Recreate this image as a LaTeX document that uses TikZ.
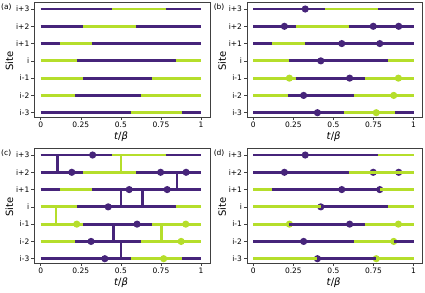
\documentclass[tikz,border=0pt]{standalone}
\usepackage{fontspec}
\setmainfont{DejaVu Sans}
\usepackage{xcolor}
\usepackage{tikz}

\definecolor{vpurple}{HTML}{46247A}
\definecolor{vgreen}{HTML}{B5DE2B}

% axes of one panel: frame, ticks, tick labels, axis labels, tag
\newcommand{\panelaxes}[1]{%
  \draw[frame] (-0.0387,-0.27) rectangle (1.0563,6.4);
  \foreach \t [count=\k] in {0,0.25,0.5,0.75,1} {
    \draw[tick] (\t,-0.27) -- ++(0,-3pt);
    \node[ticklabel, anchor=north] (xt#1\k) at ([yshift=-4.4pt]\t,-0.27) {\t};
  }
  \foreach \r/\s in {0/i-3,1/i-2,2/i-1,3/i,4/i+1,5/i+2,6/i+3} {
    \draw[tick] (-0.0387,\r) -- ++(-3.5pt,0);
    \node[ticklabel, anchor=east] (yt#1\r) at ([xshift=-5pt]-0.0387,\r) {\s};
  }
  \node[axislabel, rotate=90] (site#1) at (-31.2pt,51.7pt) {Site};
  \node[axislabel] (time#1) at (80.3pt,-23.6pt) {\textit{t}/\textit{β}};
  \node[tag, anchor=west] (tag#1) at (-39.7pt,105.7pt) {(#1)};
}

% world lines of the first configuration
\newcommand{\worldlines}{%
  \foreach \r/\a/\b/\c in {
      6/0/0.447/vpurple, 6/0.447/0.78/vgreen, 6/0.78/1/vpurple,
      5/0/0.266/vpurple, 5/0.266/0.595/vgreen, 5/0.595/1/vpurple,
      4/0/0.118/vpurple, 4/0.118/0.322/vgreen, 4/0.322/1/vpurple,
      3/0/0.225/vgreen, 3/0.225/0.842/vpurple, 3/0.842/1/vgreen,
      2/0/0.264/vgreen, 2/0.264/0.694/vpurple, 2/0.694/1/vgreen,
      1/0/0.216/vgreen, 1/0.216/0.628/vpurple, 1/0.628/1/vgreen,
      0/0/0.565/vpurple, 0/0.565/0.884/vgreen, 0/0.884/1/vpurple}
    \draw[world, \c] (\a,\r) -- (\b,\r);
}

% vertices on the world lines
\newcommand{\vertices}{%
  \foreach \r/\t/\c in {
      6/0.324/vpurple,
      5/0.194/vpurple, 5/0.748/vpurple, 5/0.907/vpurple,
      4/0.552/vpurple, 4/0.789/vpurple,
      3/0.421/vpurple,
      2/0.225/vgreen, 2/0.601/vpurple, 2/0.905/vgreen,
      1/0.314/vpurple, 1/0.876/vgreen,
      0/0.40/vpurple, 0/0.767/vgreen}
    \fill[\c] (\t,\r) circle (3.6pt);
}

\begin{document}
\begin{tikzpicture} [
    x=160.3pt, y=17.28pt,
    world/.style={line width=2.8pt},
    bond/.style={line width=2.4pt},
    frame/.style={draw=black!75, line width=0.6pt},
    tick/.style={black!75, line width=0.5pt},
    ticklabel/.style={font=\fontsize{7.5}{8}\selectfont, inner sep=0pt},
    axislabel/.style={font=\fontsize{10}{12}\selectfont, inner sep=0pt},
    tag/.style={font=\fontsize{7.5}{8}\selectfont, inner sep=0pt}
]
\useasboundingbox (0pt,0pt) rectangle (425pt,292pt);

% (a) world lines
\begin{scope}[shift={(40.7pt,179.3pt)}]
\worldlines
\panelaxes{a}
\end{scope}

% (b) with vertices
\begin{scope}[shift={(253.3pt,179.3pt)}]
\worldlines
\vertices
\panelaxes{b}
\end{scope}

% (c) with bonds between sites
\begin{scope}[shift={(40.7pt,33.3pt)}]
\foreach \t/\r/\c in {0.106/5/vpurple, 0.50/5/vgreen, 0.852/4/vpurple,
    0.50/3/vpurple, 0.634/3/vpurple, 0.094/2/vgreen,
    0.455/1/vpurple, 0.753/1/vgreen, 0.50/0/vpurple}
  \draw[bond, \c] (\t,\r) -- (\t,\r+1);
\worldlines
\vertices
\panelaxes{c}
\end{scope}

% (d) updated world lines over the vertices
\begin{scope}[shift={(253.3pt,33.3pt)}]
\vertices
\foreach \r/\a/\b/\c in {
    6/0/0.78/vpurple, 6/0.78/1/vgreen,
    5/0/0.595/vpurple, 5/0.595/1/vgreen,
    4/0/0.118/vgreen, 4/0.118/0.789/vpurple, 4/0.789/1/vgreen,
    3/0/0.421/vgreen, 3/0.421/0.842/vpurple, 3/0.842/1/vgreen,
    2/0/0.225/vgreen, 2/0.225/0.694/vpurple, 2/0.694/1/vgreen,
    1/0/0.628/vpurple, 1/0.628/0.876/vgreen, 1/0.876/1/vpurple,
    0/0/0.40/vgreen, 0/0.40/0.767/vpurple, 0/0.767/1/vgreen}
  \draw[world, \c] (\a,\r) -- (\b,\r);
\panelaxes{d}
\end{scope}

\end{tikzpicture}
\end{document}
